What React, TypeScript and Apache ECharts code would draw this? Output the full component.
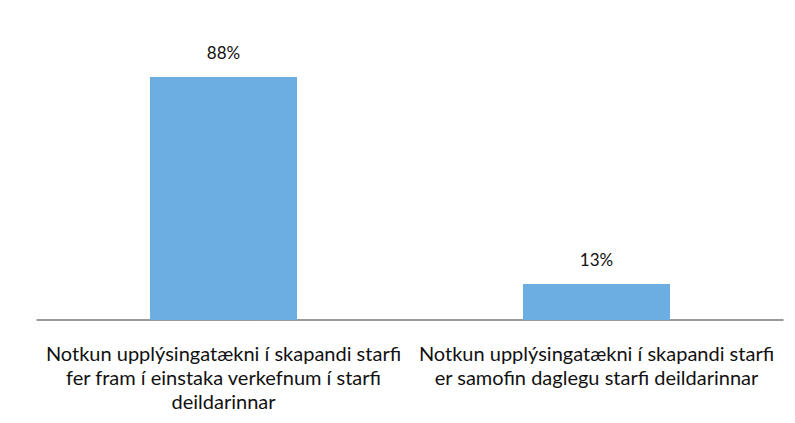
import React, { useEffect, useRef } from "react";
import * as echarts from "echarts";

const categories = [
  "Notkun upplýsingatækni í skapandi starfi\nfer fram í einstaka verkefnum í starfi\ndeildarinnar",
  "Notkun upplýsingatækni í skapandi starfi\ner samofin daglegu starfi deildarinnar",
];
const values = [88, 13];

export default function App() {
  const ref = useRef<HTMLDivElement>(null);
  useEffect(() => {
    document.body.style.margin = "0";
    const chart = echarts.init(ref.current!, undefined, { renderer: "svg" });
    chart.setOption({
      animation: false,
      backgroundColor: "#ffffff",
      grid: { left: 37, right: 12, top: 44, bottom: 103 },
      xAxis: {
        type: "category",
        data: categories,
        axisTick: { show: false },
        axisLine: { lineStyle: { color: "#7a7a7a", width: 1.5 } },
        axisLabel: {
          interval: 0,
          margin: 21,
          color: "#111111",
          fontFamily: "Lato",
          fontSize: 20,
          lineHeight: 24,
          align: "center",
        },
      },
      yAxis: {
        type: "value",
        min: 0,
        max: 100,
        show: false,
        splitLine: { show: false },
      },
      series: [
        {
          type: "bar",
          data: values,
          barWidth: 147,
          itemStyle: { color: "#6caee2" },
          label: {
            show: true,
            position: "top",
            distance: 16,
            formatter: "{c}%",
            color: "#111111",
            fontFamily: "Lato",
            fontSize: 17,
          },
        },
      ],
    });
    return () => chart.dispose();
  }, []);
  return <div ref={ref} style={{ width: 795, height: 423 }} />;
}
